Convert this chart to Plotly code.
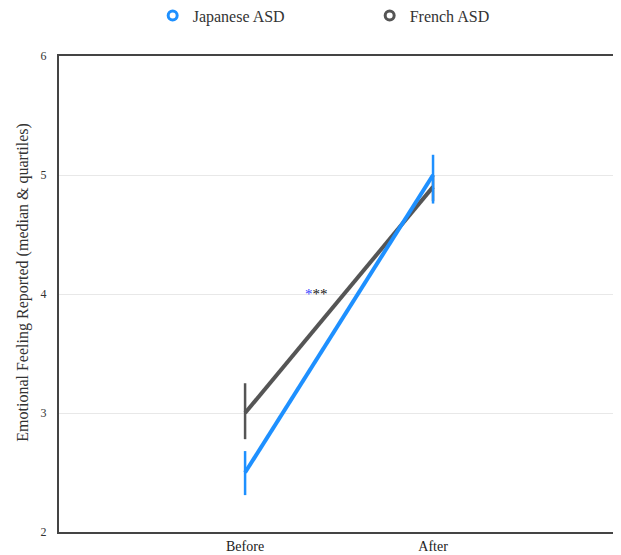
import plotly.graph_objects as go

categories = ["Before", "After"]
japanese_median = [2.5, 5.0]
japanese_q_upper = [2.68, 5.17]
japanese_q_lower = [2.31, 4.76]
french_median = [3.0, 4.9]
french_q_upper = [3.25, 5.0]
french_q_lower = [2.78, 4.78]
y_title = "Emotional Feeling Reported (median & quartiles)"

BLUE = "#1E90FF"
GRAY = "#555555"
FONT = "Liberation Serif, DejaVu Serif, serif"

def err(med, up, lo):
    return dict(type="data", symmetric=False,
                array=[u - m for u, m in zip(up, med)],
                arrayminus=[m - l for m, l in zip(med, lo)])

fig = go.Figure()
xi = [0, 1]
fig.add_trace(go.Scatter(x=xi, y=french_median, mode="lines", showlegend=False,
                         line=dict(color=GRAY, width=4),
                         error_y=dict(**err(french_median, french_q_upper, french_q_lower),
                                      color=GRAY, thickness=2.5, width=0)))
fig.add_trace(go.Scatter(x=xi, y=japanese_median, mode="lines", showlegend=False,
                         line=dict(color=BLUE, width=4),
                         error_y=dict(**err(japanese_median, japanese_q_upper, japanese_q_lower),
                                      color=BLUE, thickness=2.5, width=0)))
# legend entries
fig.add_trace(go.Scatter(x=[None], y=[None], mode="markers", name="Japanese ASD",
                         marker=dict(symbol="circle-open", size=9, color=BLUE,
                                     line=dict(width=3, color=BLUE))))
fig.add_trace(go.Scatter(x=[None], y=[None], mode="markers", name="French ASD",
                         marker=dict(symbol="circle-open", size=9, color=GRAY,
                                     line=dict(width=3, color=GRAY))))

fig.add_annotation(x=0.38, y=4, xref="x", yref="y", showarrow=False,
                   text="<span style='color:#3344ff'>*</span><span style='color:#111111'>**</span>",
                   font=dict(family=FONT, size=15, color="#111111"))

fig.add_annotation(x=-0.063, y=0.525, xref="paper", yref="paper", showarrow=False,
                   text=y_title, textangle=-90, xanchor="center", yanchor="middle",
                   font=dict(family=FONT, size=16, color="#333"))

fig.update_layout(
    width=613, height=547,
    margin=dict(l=51, r=0, t=48, b=23, autoexpand=False),
    plot_bgcolor="white", paper_bgcolor="white",
    font=dict(family=FONT, size=12, color="#333"),
    legend=dict(orientation="h", xref="container", yref="container",
                x=0.236, xanchor="left", y=0.986, yanchor="middle",
                entrywidth=172, entrywidthmode="pixels",
                font=dict(family=FONT, size=16, color="#333")),
    xaxis=dict(range=[-0.99, 2.0], tickvals=xi, ticktext=categories,
               showgrid=False, zeroline=False, showline=True, linecolor="#444",
               linewidth=2, mirror=True, ticks="", ticklabelstandoff=0,
               tickfont=dict(size=14, color="#222")),
    yaxis=dict(range=[2, 6], dtick=1, showgrid=True, gridcolor="#e8e8e8",
               zeroline=False, showline=True, linecolor="#444", linewidth=2,
               ticks="", ticklabelstandoff=8),
)

fig.write_html("out.html")
